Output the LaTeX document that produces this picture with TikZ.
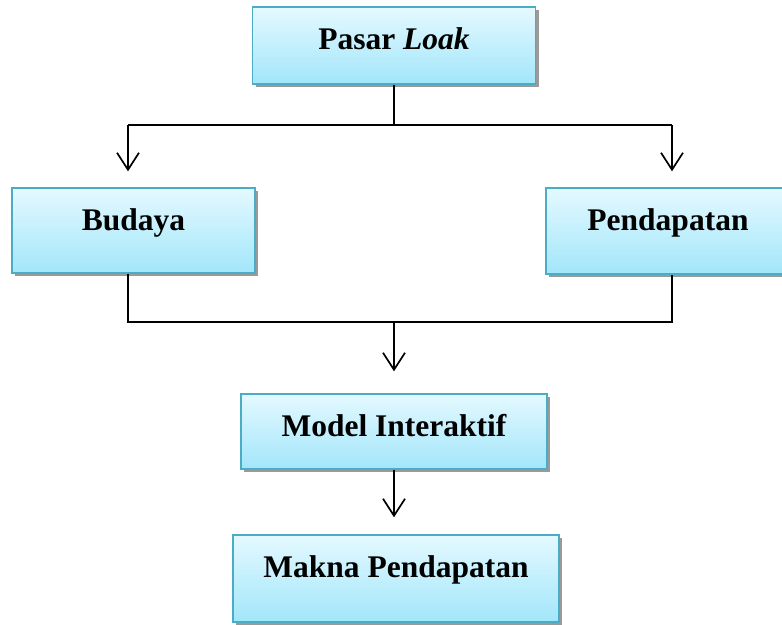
\documentclass[tikz,border=0pt]{standalone}
\usepackage{fontspec}
\setmainfont{Liberation Serif}
\usetikzlibrary{arrows.meta,shadows}
\definecolor{tepi}{HTML}{4BACC6}
\definecolor{atas}{HTML}{E4F9FF}
\definecolor{bawah}{HTML}{A2E6FA}
\definecolor{bayang}{HTML}{9A9A9A}

\begin{document}
\begin{tikzpicture}[x=1pt,y=-1pt,
   kotak/.style={draw=tepi,line width=1.4pt,top color=atas,bottom color=bawah,
     inner xsep=0pt,inner ysep=0pt,text height=42.5pt,
     font=\fontsize{31.5}{36}\selectfont\bfseries,
     drop shadow={shadow xshift=3pt,shadow yshift=-3pt,fill=bayang,opacity=1}},
   garis/.style={line width=1.7pt,black},
   panah/.style={garis,-{Straight Barb[length=17pt,width=22pt,line width=1.7pt]}}]
  \useasboundingbox (0,0) rectangle (782,624);
  % kotak
  \node[kotak,minimum width=283pt,text depth=34.5pt] (pasar) at (394,45.5) {Pasar \textit{Loak}};
  \node[kotak,minimum width=243pt,text depth=42.5pt] (budaya) at (133.5,230.5) {Budaya};
  \node[kotak,minimum width=244pt,text depth=43.5pt] (pendapatan) at (668,231) {Pendapatan};
  \node[kotak,minimum width=306pt,text depth=32.5pt] (model) at (394,431.5) {Model Interaktif};
  \node[kotak,minimum width=326pt,text depth=44.5pt] (makna) at (396,578.5) {Makna Pendapatan};
  % titik cabang
  \coordinate (bagiKiri) at (128,125);
  \coordinate (bagiKanan) at (672,125);
  \coordinate (gabungKiri) at (128,322);
  \coordinate (gabungKanan) at (672,322);
  % garis atas
  \draw[garis] (pasar.south) -- (pasar.south |- bagiKiri);
  \draw[garis] (bagiKiri) -- (bagiKanan);
  \draw[panah,shorten >=16pt] (bagiKiri) -- (bagiKiri |- budaya.north);
  \draw[panah,shorten >=16pt] (bagiKanan) -- (bagiKanan |- pendapatan.north);
  % garis bawah
  \draw[garis] (gabungKiri |- budaya.south) -- (gabungKiri) -- (gabungKanan) -- (gabungKanan |- pendapatan.south);
  \draw[panah,shorten >=22pt] (model.north |- gabungKiri) -- (model.north);
  \draw[panah,shorten >=17pt] (model.south) -- (model.south |- makna.north);
\end{tikzpicture}
\end{document}
